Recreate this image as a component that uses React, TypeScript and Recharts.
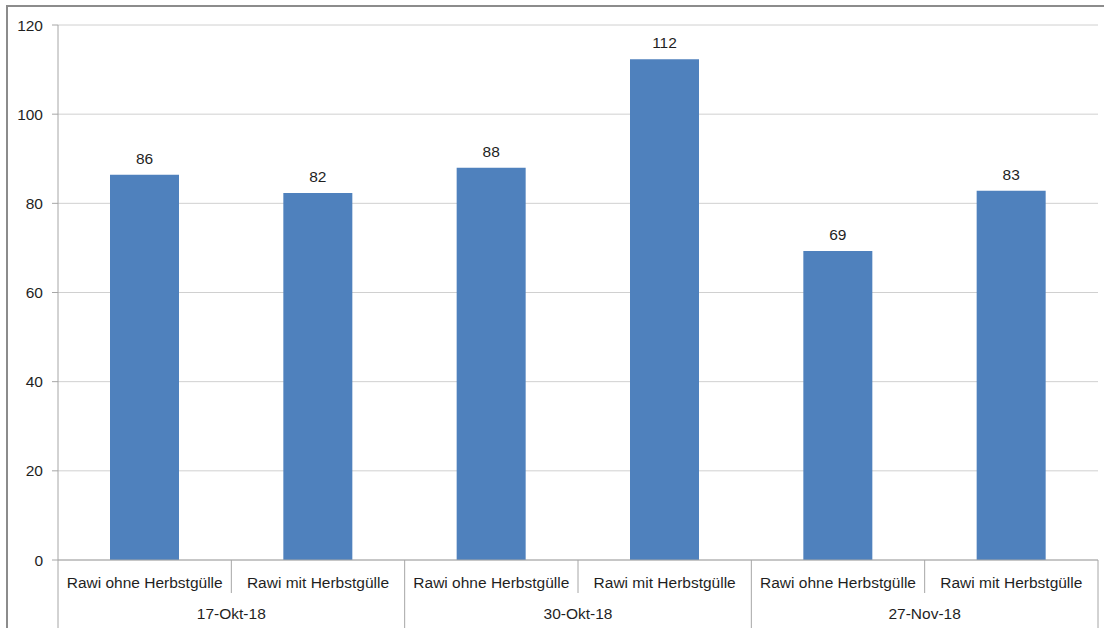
import React from 'react';
import { BarChart, Bar, XAxis, YAxis, CartesianGrid, LabelList } from 'recharts';

const categories = [
  'Rawi ohne Herbstgülle',
  'Rawi mit Herbstgülle',
  'Rawi ohne Herbstgülle',
  'Rawi mit Herbstgülle',
  'Rawi ohne Herbstgülle',
  'Rawi mit Herbstgülle',
];
const dates = ['17-Okt-18', '17-Okt-18', '30-Okt-18', '30-Okt-18', '27-Nov-18', '27-Nov-18'];
const values = [86.4, 82.3, 88.0, 112.3, 69.3, 82.8];
const yTicks = [0, 20, 40, 60, 80, 100, 120];

const data = categories.map((c, i) => ({ label: c, date: dates[i], value: values[i] }));

const AXIS = '#A6A6A6';
const TEXT = '#1f1f1f';
const FONT = 15.5;

const CategoryTick = (props: any) => {
  const { x, y, payload, width } = props;
  const i: number = payload?.index ?? props.index ?? 0;
  const n = data.length;
  const half = payload && typeof payload.offset === 'number' && payload.offset > 0 ? payload.offset : width / n / 2;
  const isGroupEnd = i % 2 === 1;
  return (
    <g>
      {i === 0 && <line x1={x - half} x2={x - half} y1={y} y2={y + 68} stroke={AXIS} strokeWidth={1} />}
      <line x1={x + half} x2={x + half} y1={y} y2={isGroupEnd ? y + 68 : y + 33} stroke={AXIS} strokeWidth={1} />
      <text x={x} y={y + 22} textAnchor="middle" dominantBaseline="central" fill={TEXT} fontSize={FONT}>
        {payload.value}
      </text>
      {isGroupEnd && (
        <text x={x - half} y={y + 53} textAnchor="middle" dominantBaseline="central" fill={TEXT} fontSize={FONT}>
          {data[i].date}
        </text>
      )}
    </g>
  );
};

export default function App() {
  return (
    <div
      style={{
        position: 'absolute',
        left: 0,
        top: 0,
        width: 1104,
        height: 628,
        overflow: 'hidden',
        background: '#fff',
        fontFamily: '"Liberation Sans", Arial, sans-serif',
      }}
    >
      <div
        style={{
          position: 'absolute',
          left: 6,
          top: 5,
          width: 1120,
          height: 640,
          border: '2px solid #8C8C8C',
        }}
      />
      <div style={{ position: 'absolute', left: 0, top: 0 }}>
        <BarChart
          width={1104}
          height={628}
          data={data}
          margin={{ top: 25, right: 6, bottom: 0, left: 0 }}
          barCategoryGap="30%"
        >
          <CartesianGrid vertical={false} stroke="#D0D0D0" />
          <YAxis
            domain={[0, 120]}
            ticks={yTicks}
            interval={0}
            width={58}
            axisLine={{ stroke: AXIS }}
            tickLine={{ stroke: AXIS }}
            tickSize={6}
            tickMargin={9}
            tick={{ fill: TEXT, fontSize: FONT }}
          />
          <XAxis
            dataKey="label"
            interval={0}
            height={68}
            axisLine={{ stroke: AXIS }}
            tickLine={false}
            tickSize={0}
            tickMargin={0}
            tick={<CategoryTick />}
          />
          <Bar dataKey="value" fill="#4F81BD" isAnimationActive={false}>
            <LabelList
              dataKey="value"
              position="top"
              offset={11}
              fill={TEXT}
              fontSize={FONT}
              formatter={(v: any) => Math.round(Number(v))}
            />
          </Bar>
        </BarChart>
      </div>
    </div>
  );
}
